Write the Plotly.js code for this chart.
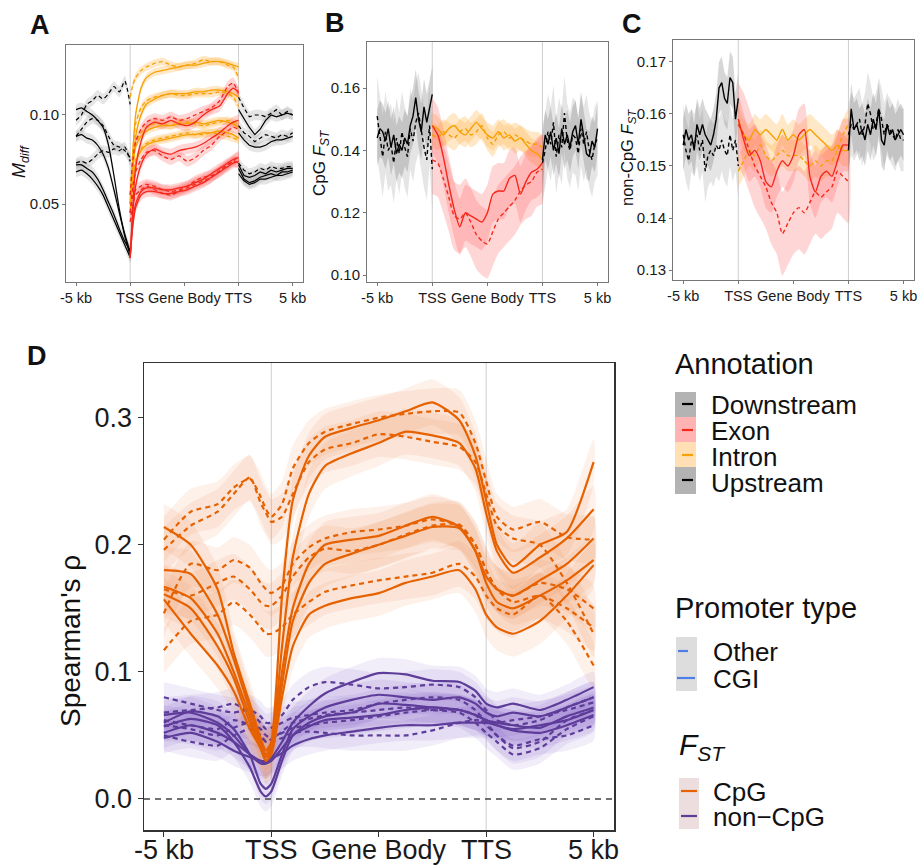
<!DOCTYPE html>
<html><head><meta charset="utf-8">
<script src="https://cdn.plot.ly/plotly-3.0.1.min.js"></script>
<style>body{margin:0;background:#fff}#plot{width:920px;height:866px}</style>
</head><body><div id="plot"></div>
<script>
// ---------- shared axis labels ----------
const tickPos = [0, 1, 2, 3, 4];
const tickLabels = ['-5 kb', 'TSS', 'Gene Body', 'TTS', '5 kb'];

// ---------- Panel A (M_diff) ----------
const A_up_x = [0, 0.1, 0.2, 0.3, 0.4, 0.5, 0.6, 0.7, 0.8, 0.9, 1.0];
const A_up_s1 = [0.103, 0.104, 0.102, 0.100, 0.097, 0.093, 0.083, 0.066, 0.047, 0.032, 0.021];
const A_up_s2 = [0.088, 0.089, 0.087, 0.086, 0.083, 0.078, 0.070, 0.058, 0.045, 0.033, 0.023];
const A_up_s3 = [0.072, 0.072, 0.070, 0.068, 0.064, 0.058, 0.051, 0.044, 0.036, 0.029, 0.024];
const A_up_s4 = [0.068, 0.069, 0.067, 0.064, 0.060, 0.055, 0.048, 0.041, 0.034, 0.027, 0.020];
const A_up_d1 = [0.097, 0.100, 0.106, 0.108, 0.111, 0.109, 0.112, 0.116, 0.113, 0.119, 0.106];
const A_up_d2 = [0.088, 0.092, 0.096, 0.098, 0.097, 0.094, 0.088, 0.083, 0.082, 0.080, 0.076];
const A_up_d3 = [0.073, 0.074, 0.073, 0.075, 0.078, 0.080, 0.079, 0.081, 0.080, 0.082, 0.074];

const A_gb_x = [1.0, 1.05, 1.1, 1.2, 1.3, 1.45, 1.6, 1.75, 1.9, 2.05, 2.2, 2.35, 2.5, 2.65, 2.8, 2.9, 3.0];
const A_in_s1 = [0.050, 0.080, 0.100, 0.115, 0.121, 0.124, 0.125, 0.126, 0.127, 0.128, 0.128, 0.129, 0.130, 0.130, 0.129, 0.128, 0.127];
const A_in_d1 = [0.110, 0.117, 0.121, 0.125, 0.127, 0.129, 0.130, 0.128, 0.127, 0.128, 0.129, 0.131, 0.130, 0.130, 0.128, 0.127, 0.121];
const A_in_s2 = [0.045, 0.070, 0.088, 0.100, 0.106, 0.109, 0.111, 0.112, 0.112, 0.112, 0.113, 0.113, 0.114, 0.114, 0.113, 0.112, 0.110];
const A_in_d2 = [0.055, 0.080, 0.095, 0.104, 0.108, 0.110, 0.111, 0.112, 0.111, 0.111, 0.112, 0.112, 0.112, 0.113, 0.112, 0.110, 0.105];
const A_in_s3 = [0.050, 0.070, 0.082, 0.088, 0.091, 0.093, 0.094, 0.094, 0.095, 0.095, 0.096, 0.095, 0.096, 0.097, 0.096, 0.095, 0.093];
const A_in_d3 = [0.055, 0.072, 0.084, 0.090, 0.093, 0.095, 0.095, 0.094, 0.096, 0.096, 0.095, 0.094, 0.095, 0.096, 0.097, 0.096, 0.095];
const A_in_s4 = [0.045, 0.062, 0.073, 0.080, 0.083, 0.085, 0.086, 0.087, 0.088, 0.089, 0.089, 0.090, 0.090, 0.091, 0.090, 0.089, 0.087];
const A_in_d4 = [0.050, 0.065, 0.075, 0.081, 0.084, 0.086, 0.087, 0.088, 0.089, 0.090, 0.089, 0.089, 0.090, 0.089, 0.088, 0.087, 0.086];
const A_ex_s1 = [0.020, 0.050, 0.070, 0.085, 0.093, 0.096, 0.095, 0.097, 0.095, 0.094, 0.096, 0.100, 0.103, 0.105, 0.112, 0.115, 0.113];
const A_ex_d1 = [0.055, 0.075, 0.085, 0.092, 0.096, 0.098, 0.097, 0.099, 0.097, 0.098, 0.100, 0.102, 0.104, 0.108, 0.116, 0.118, 0.112];
const A_ex_s2 = [0.020, 0.045, 0.060, 0.072, 0.078, 0.081, 0.079, 0.078, 0.080, 0.081, 0.082, 0.084, 0.087, 0.090, 0.094, 0.096, 0.097];
const A_ex_d2 = [0.045, 0.060, 0.068, 0.075, 0.079, 0.080, 0.077, 0.075, 0.077, 0.074, 0.076, 0.080, 0.083, 0.088, 0.091, 0.093, 0.092];
const A_ex_s3 = [0.020, 0.040, 0.050, 0.057, 0.059, 0.059, 0.058, 0.058, 0.059, 0.060, 0.062, 0.064, 0.067, 0.070, 0.073, 0.075, 0.076];
const A_ex_d3 = [0.045, 0.055, 0.058, 0.060, 0.061, 0.060, 0.058, 0.057, 0.058, 0.060, 0.063, 0.065, 0.066, 0.068, 0.072, 0.074, 0.073];
const A_ex_s4 = [0.020, 0.038, 0.048, 0.055, 0.057, 0.057, 0.056, 0.056, 0.057, 0.058, 0.060, 0.062, 0.065, 0.068, 0.071, 0.073, 0.074];
const A_ex_d4 = [0.040, 0.050, 0.055, 0.058, 0.060, 0.058, 0.056, 0.055, 0.057, 0.059, 0.061, 0.063, 0.065, 0.069, 0.072, 0.074, 0.077];

const A_dn_x = [3.0, 3.1, 3.2, 3.3, 3.4, 3.5, 3.6, 3.7, 3.8, 3.9, 4.0];
const A_dn_s1 = [0.103, 0.098, 0.093, 0.089, 0.092, 0.097, 0.100, 0.099, 0.100, 0.101, 0.100];
const A_dn_d1 = [0.110, 0.104, 0.099, 0.100, 0.100, 0.099, 0.101, 0.103, 0.100, 0.102, 0.100];
const A_dn_s2 = [0.090, 0.086, 0.083, 0.082, 0.082, 0.083, 0.085, 0.086, 0.086, 0.087, 0.088];
const A_dn_d2 = [0.094, 0.090, 0.088, 0.085, 0.087, 0.089, 0.088, 0.087, 0.089, 0.088, 0.090];
const A_dn_s3 = [0.072, 0.066, 0.065, 0.066, 0.068, 0.067, 0.069, 0.068, 0.069, 0.070, 0.070];
const A_dn_s4 = [0.070, 0.064, 0.062, 0.063, 0.065, 0.066, 0.067, 0.066, 0.068, 0.068, 0.069];
const A_dn_d3 = [0.073, 0.069, 0.067, 0.068, 0.070, 0.069, 0.071, 0.070, 0.070, 0.071, 0.071];
const A_dn_s5 = [0.067, 0.063, 0.061, 0.062, 0.064, 0.064, 0.065, 0.066, 0.066, 0.067, 0.068];

// ---------- Panels B and C grids ----------
const FL_UP_X = [0, 0.05, 0.1, 0.15, 0.2, 0.25, 0.3, 0.35, 0.4, 0.45, 0.5, 0.55, 0.6, 0.65, 0.7, 0.75, 0.8, 0.85, 0.9, 0.95, 1.0];
const GB_X = [1.0, 1.1, 1.2, 1.3, 1.4, 1.5, 1.6, 1.7, 1.8, 1.9, 2.0, 2.1, 2.2, 2.3, 2.4, 2.5, 2.6, 2.7, 2.8, 2.9, 3.0];
const FL_DN_X = [3.0, 3.05, 3.1, 3.15, 3.2, 3.25, 3.3, 3.35, 3.4, 3.45, 3.5, 3.55, 3.6, 3.65, 3.7, 3.75, 3.8, 3.85, 3.9, 3.95, 4.0];

// ---------- Panel B (CpG F_ST) ----------
const B_up_s = [0.144, 0.147, 0.146, 0.143, 0.147, 0.141, 0.145, 0.139, 0.142, 0.140, 0.144, 0.142, 0.148, 0.151, 0.157, 0.150, 0.146, 0.154, 0.149, 0.153, 0.158];
const B_up_d = [0.151, 0.145, 0.138, 0.146, 0.140, 0.142, 0.136, 0.144, 0.139, 0.146, 0.141, 0.138, 0.147, 0.143, 0.149, 0.152, 0.146, 0.141, 0.137, 0.148, 0.134];
const B_in_s = [0.148, 0.147, 0.145, 0.147, 0.148, 0.146, 0.145, 0.147, 0.149, 0.147, 0.145, 0.144, 0.146, 0.144, 0.145, 0.143, 0.144, 0.142, 0.140, 0.139, 0.137];
const B_in_d = [0.145, 0.144, 0.146, 0.145, 0.144, 0.146, 0.147, 0.145, 0.146, 0.148, 0.144, 0.142, 0.145, 0.146, 0.144, 0.145, 0.144, 0.143, 0.142, 0.142, 0.141];
const B_ex_s = [0.148, 0.145, 0.138, 0.129, 0.121, 0.1155, 0.120, 0.119, 0.118, 0.117, 0.120, 0.126, 0.127, 0.127, 0.131, 0.132, 0.126, 0.130, 0.133, 0.134, 0.136];
const B_ex_d = [0.137, 0.136, 0.131, 0.125, 0.119, 0.118, 0.120, 0.117, 0.113, 0.111, 0.110, 0.114, 0.118, 0.120, 0.122, 0.124, 0.127, 0.129, 0.130, 0.133, 0.134];
const B_dn_s = [0.137, 0.145, 0.142, 0.146, 0.140, 0.144, 0.139, 0.147, 0.142, 0.145, 0.141, 0.146, 0.148, 0.142, 0.150, 0.144, 0.139, 0.138, 0.143, 0.141, 0.147];
const B_dn_d = [0.136, 0.140, 0.146, 0.142, 0.149, 0.138, 0.145, 0.141, 0.152, 0.143, 0.140, 0.145, 0.144, 0.139, 0.147, 0.142, 0.146, 0.140, 0.137, 0.142, 0.144];

// ---------- Panel C (non-CpG F_ST) ----------
const C_up_s = [0.154, 0.157, 0.155, 0.156, 0.153, 0.158, 0.156, 0.158, 0.156, 0.155, 0.154, 0.156, 0.159, 0.165, 0.166, 0.163, 0.162, 0.167, 0.166, 0.159, 0.163];
const C_up_d = [0.156, 0.153, 0.151, 0.155, 0.154, 0.156, 0.153, 0.155, 0.149, 0.152, 0.153, 0.152, 0.154, 0.153, 0.155, 0.153, 0.152, 0.156, 0.153, 0.155, 0.150];
const C_in_s = [0.159, 0.156, 0.155, 0.157, 0.156, 0.157, 0.156, 0.155, 0.157, 0.155, 0.156, 0.155, 0.156, 0.157, 0.156, 0.155, 0.154, 0.153, 0.154, 0.153, 0.153];
const C_in_d = [0.149, 0.151, 0.153, 0.152, 0.154, 0.152, 0.151, 0.152, 0.153, 0.152, 0.152, 0.152, 0.151, 0.150, 0.151, 0.150, 0.151, 0.151, 0.153, 0.156, 0.158];
const C_ex_s = [0.159, 0.155, 0.152, 0.153, 0.151, 0.147, 0.146, 0.149, 0.151, 0.150, 0.152, 0.156, 0.157, 0.148, 0.145, 0.148, 0.149, 0.148, 0.151, 0.154, 0.154];
const C_ex_d = [0.158, 0.156, 0.153, 0.150, 0.148, 0.146, 0.143, 0.141, 0.137, 0.139, 0.141, 0.142, 0.141, 0.143, 0.145, 0.144, 0.145, 0.146, 0.149, 0.148, 0.147];
const C_dn_s = [0.153, 0.161, 0.157, 0.158, 0.156, 0.157, 0.155, 0.158, 0.156, 0.159, 0.157, 0.161, 0.155, 0.154, 0.158, 0.156, 0.157, 0.155, 0.156, 0.157, 0.156];
const C_dn_d = [0.156, 0.158, 0.157, 0.158, 0.159, 0.156, 0.158, 0.162, 0.160, 0.157, 0.158, 0.161, 0.159, 0.156, 0.158, 0.157, 0.156, 0.155, 0.157, 0.155, 0.155];

// ---------- Panel D (Spearman's rho) ----------
const D_x = [0, 0.25, 0.5, 0.65, 0.8, 0.9, 0.95, 1.0, 1.1, 1.2, 1.35, 1.5, 1.75, 2.0, 2.25, 2.5, 2.75, 2.9, 3.0, 3.1, 3.25, 3.5, 3.75, 4.0];
// CpG, CGI (solid)
const cpg_cgi_1 = [0.214, 0.200, 0.165, 0.115, 0.075, 0.048, 0.038, 0.045, 0.160, 0.235, 0.270, 0.285, 0.292, 0.298, 0.305, 0.312, 0.298, 0.270, 0.235, 0.200, 0.183, 0.200, 0.210, 0.265];
const cpg_cgi_2 = [0.180, 0.177, 0.145, 0.110, 0.070, 0.045, 0.035, 0.042, 0.120, 0.190, 0.240, 0.262, 0.272, 0.280, 0.289, 0.286, 0.280, 0.260, 0.225, 0.195, 0.178, 0.190, 0.205, 0.228];
const cpg_cgi_3 = [0.167, 0.158, 0.130, 0.100, 0.065, 0.042, 0.033, 0.040, 0.100, 0.150, 0.185, 0.200, 0.204, 0.207, 0.215, 0.222, 0.214, 0.195, 0.175, 0.165, 0.160, 0.172, 0.185, 0.205];
const cpg_cgi_4 = [0.161, 0.150, 0.120, 0.095, 0.060, 0.040, 0.030, 0.037, 0.090, 0.140, 0.170, 0.185, 0.193, 0.200, 0.207, 0.214, 0.213, 0.195, 0.170, 0.155, 0.150, 0.160, 0.172, 0.188];
const cpg_cgi_5 = [0.157, 0.130, 0.105, 0.085, 0.055, 0.040, 0.030, 0.035, 0.080, 0.120, 0.145, 0.152, 0.158, 0.162, 0.170, 0.175, 0.180, 0.165, 0.145, 0.135, 0.130, 0.140, 0.160, 0.184];
// CpG, Other (dashed)
const cpg_oth_1 = [0.204, 0.226, 0.232, 0.245, 0.252, 0.238, 0.228, 0.222, 0.232, 0.260, 0.280, 0.289, 0.295, 0.300, 0.303, 0.305, 0.304, 0.280, 0.250, 0.222, 0.212, 0.218, 0.206, 0.204];
const cpg_oth_2 = [0.196, 0.215, 0.226, 0.240, 0.253, 0.233, 0.225, 0.218, 0.222, 0.240, 0.265, 0.275, 0.280, 0.287, 0.285, 0.281, 0.277, 0.265, 0.240, 0.215, 0.205, 0.200, 0.170, 0.130];
const cpg_oth_3 = [0.146, 0.185, 0.180, 0.188, 0.182, 0.170, 0.165, 0.162, 0.168, 0.185, 0.198, 0.205, 0.210, 0.212, 0.215, 0.220, 0.215, 0.200, 0.180, 0.165, 0.160, 0.170, 0.165, 0.150];
const cpg_oth_4 = [0.165, 0.160, 0.170, 0.175, 0.165, 0.155, 0.152, 0.152, 0.160, 0.175, 0.190, 0.197, 0.195, 0.200, 0.208, 0.215, 0.216, 0.200, 0.180, 0.165, 0.155, 0.160, 0.150, 0.135];
const cpg_oth_5 = [0.117, 0.140, 0.145, 0.155, 0.145, 0.135, 0.130, 0.130, 0.135, 0.145, 0.155, 0.163, 0.168, 0.172, 0.175, 0.178, 0.185, 0.175, 0.160, 0.150, 0.145, 0.160, 0.140, 0.105];
// non-CpG, CGI (solid)
const non_cgi_1 = [0.066, 0.068, 0.060, 0.050, 0.035, 0.028, 0.028, 0.032, 0.045, 0.060, 0.073, 0.083, 0.092, 0.099, 0.098, 0.093, 0.092, 0.085, 0.075, 0.072, 0.075, 0.070, 0.078, 0.088];
const non_cgi_2 = [0.060, 0.069, 0.065, 0.055, 0.035, 0.012, 0.008, 0.012, 0.035, 0.055, 0.065, 0.072, 0.078, 0.082, 0.080, 0.078, 0.080, 0.075, 0.068, 0.065, 0.068, 0.065, 0.072, 0.080];
const non_cgi_3 = [0.057, 0.063, 0.058, 0.045, 0.025, 0.006, 0.002, 0.006, 0.030, 0.050, 0.060, 0.065, 0.068, 0.075, 0.074, 0.072, 0.070, 0.066, 0.062, 0.060, 0.058, 0.056, 0.065, 0.072];
const non_cgi_4 = [0.052, 0.058, 0.052, 0.045, 0.035, 0.030, 0.028, 0.030, 0.040, 0.050, 0.057, 0.062, 0.064, 0.066, 0.070, 0.072, 0.070, 0.066, 0.062, 0.058, 0.054, 0.052, 0.058, 0.066];
const non_cgi_5 = [0.048, 0.052, 0.045, 0.038, 0.033, 0.030, 0.030, 0.032, 0.036, 0.042, 0.047, 0.050, 0.053, 0.056, 0.058, 0.058, 0.060, 0.060, 0.060, 0.058, 0.055, 0.058, 0.062, 0.070];
// non-CpG, Other (dashed)
const non_oth_1 = [0.080, 0.075, 0.070, 0.068, 0.070, 0.065, 0.060, 0.060, 0.066, 0.078, 0.088, 0.092, 0.090, 0.087, 0.088, 0.090, 0.088, 0.080, 0.070, 0.062, 0.058, 0.062, 0.072, 0.080];
const non_oth_2 = [0.068, 0.070, 0.072, 0.075, 0.068, 0.060, 0.055, 0.056, 0.060, 0.064, 0.066, 0.068, 0.070, 0.075, 0.078, 0.080, 0.078, 0.070, 0.060, 0.050, 0.040, 0.045, 0.062, 0.070];
const non_oth_3 = [0.062, 0.058, 0.055, 0.062, 0.058, 0.050, 0.045, 0.047, 0.053, 0.060, 0.063, 0.066, 0.068, 0.070, 0.072, 0.070, 0.068, 0.060, 0.052, 0.045, 0.035, 0.040, 0.055, 0.065];
const non_oth_4 = [0.058, 0.055, 0.050, 0.056, 0.060, 0.055, 0.050, 0.048, 0.052, 0.056, 0.058, 0.060, 0.062, 0.065, 0.068, 0.070, 0.070, 0.066, 0.058, 0.050, 0.042, 0.047, 0.050, 0.058];
const non_oth_5 = [0.050, 0.045, 0.042, 0.050, 0.055, 0.050, 0.045, 0.045, 0.048, 0.052, 0.053, 0.052, 0.050, 0.050, 0.050, 0.054, 0.060, 0.062, 0.062, 0.060, 0.062, 0.065, 0.070, 0.076];

// ---------- styling ----------
const FONT = 'Liberation Sans, Arial, sans-serif';
const BLACK = '#000000', EXON = '#f5281c', INTRON = '#f7a000';
const CPG = '#e66100', NONCPG = '#5e3c99';
const GRAY_RIB = 'rgba(120,120,120,0.30)', GRAY_RIB2 = 'rgba(150,150,150,0.25)';
const EXON_RIB = 'rgba(255,90,90,0.25)', INTRON_RIB = 'rgba(255,185,80,0.32)';
const CPG_RIB = 'rgba(238,125,60,0.11)', NON_RIB = 'rgba(125,95,200,0.11)';

const ribbons = [], lines = [];
function addSeries(xa, ya, xs, ys, color, dashed, width, hw, ribColor, shape) {
  const up = ys.map(v => v + hw), lo = ys.map(v => v - hw);
  ribbons.push({x: xs.concat(xs.slice().reverse()), y: up.concat(lo.reverse()), xaxis: xa, yaxis: ya,
    mode: 'lines', fill: 'toself', fillcolor: ribColor, line: {width: 0, shape: shape, smoothing: 0.6},
    hoverinfo: 'skip', showlegend: false});
  lines.push({x: xs, y: ys, xaxis: xa, yaxis: ya, mode: 'lines',
    line: {color: color, width: width, dash: dashed ? (width > 2 ? '5px,4px' : '4px,3px') : 'solid', shape: shape, smoothing: 0.6},
    hoverinfo: 'skip', showlegend: false});
}

// Panel A
[[A_up_s1,0],[A_up_s2,0],[A_up_s3,0],[A_up_s4,0],[A_up_d1,1],[A_up_d2,1],[A_up_d3,1]].forEach(([s,d]) =>
  addSeries('x', 'y', A_up_x, s, BLACK, d, 1.2, 0.003, GRAY_RIB2, 'spline'));
[[A_in_s1,0],[A_in_d1,1],[A_in_s2,0],[A_in_d2,1],[A_in_s3,0],[A_in_d3,1],[A_in_s4,0],[A_in_d4,1]].forEach(([s,d]) =>
  addSeries('x', 'y', A_gb_x, s, INTRON, d, 1.3, 0.0022, INTRON_RIB, 'spline'));
[[A_ex_s1,0],[A_ex_d1,1],[A_ex_s2,0],[A_ex_d2,1],[A_ex_s3,0],[A_ex_d3,1],[A_ex_s4,0],[A_ex_d4,1]].forEach(([s,d]) =>
  addSeries('x', 'y', A_gb_x, s, EXON, d, 1.3, 0.003, EXON_RIB, 'spline'));
[[A_dn_s1,0],[A_dn_d1,1],[A_dn_s2,0],[A_dn_d2,1],[A_dn_s3,0],[A_dn_s4,0],[A_dn_d3,1],[A_dn_s5,0]].forEach(([s,d]) =>
  addSeries('x', 'y', A_dn_x, s, BLACK, d, 1.2, 0.003, GRAY_RIB2, 'linear'));

// Panel B
addSeries('x2','y2', FL_UP_X, B_up_d, BLACK, 1, 1.4, 0.013, GRAY_RIB2, 'linear');
addSeries('x2','y2', FL_UP_X, B_up_s, BLACK, 0, 1.4, 0.009, GRAY_RIB, 'linear');
addSeries('x2','y2', GB_X, B_in_d, INTRON, 1, 1.4, 0.004, INTRON_RIB, 'spline');
addSeries('x2','y2', GB_X, B_in_s, INTRON, 0, 1.4, 0.004, INTRON_RIB, 'spline');
addSeries('x2','y2', GB_X, B_ex_d, EXON, 1, 1.4, 0.011, EXON_RIB, 'spline');
addSeries('x2','y2', GB_X, B_ex_s, EXON, 0, 1.4, 0.009, EXON_RIB, 'spline');
addSeries('x2','y2', FL_DN_X, B_dn_d, BLACK, 1, 1.4, 0.012, GRAY_RIB2, 'linear');
addSeries('x2','y2', FL_DN_X, B_dn_s, BLACK, 0, 1.4, 0.008, GRAY_RIB, 'linear');

// Panel C
addSeries('x3','y3', FL_UP_X, C_up_d, BLACK, 1, 1.4, 0.006, GRAY_RIB2, 'linear');
addSeries('x3','y3', FL_UP_X, C_up_s, BLACK, 0, 1.4, 0.005, GRAY_RIB, 'linear');
addSeries('x3','y3', GB_X, C_in_d, INTRON, 1, 1.4, 0.003, INTRON_RIB, 'spline');
addSeries('x3','y3', GB_X, C_in_s, INTRON, 0, 1.4, 0.003, INTRON_RIB, 'spline');
addSeries('x3','y3', GB_X, C_ex_d, EXON, 1, 1.4, 0.008, EXON_RIB, 'spline');
addSeries('x3','y3', GB_X, C_ex_s, EXON, 0, 1.4, 0.005, EXON_RIB, 'spline');
addSeries('x3','y3', FL_DN_X, C_dn_d, BLACK, 1, 1.4, 0.006, GRAY_RIB2, 'linear');
addSeries('x3','y3', FL_DN_X, C_dn_s, BLACK, 0, 1.4, 0.005, GRAY_RIB, 'linear');

// Panel D
[non_cgi_1, non_cgi_2, non_cgi_3, non_cgi_4, non_cgi_5].forEach(s => addSeries('x4','y4', D_x, s, NONCPG, 0, 2.2, 0.012, NON_RIB, 'spline'));
[non_oth_1, non_oth_2, non_oth_3, non_oth_4, non_oth_5].forEach(s => addSeries('x4','y4', D_x, s, NONCPG, 1, 2.2, 0.012, NON_RIB, 'spline'));
[cpg_cgi_1, cpg_cgi_2, cpg_cgi_3, cpg_cgi_4, cpg_cgi_5].forEach(s => addSeries('x4','y4', D_x, s, CPG, 0, 2.2, 0.018, CPG_RIB, 'spline'));
[cpg_oth_1, cpg_oth_2, cpg_oth_3, cpg_oth_4, cpg_oth_5].forEach(s => addSeries('x4','y4', D_x, s, CPG, 1, 2.2, 0.018, CPG_RIB, 'spline'));

// ---------- layout helpers ----------
const W = 920, H = 866;
const px = v => v / W, py = v => 1 - v / H;
function xAxis(x0, x1, anchor, fs, big) {
  return {domain: [px(x0), px(x1)], anchor: anchor, range: [-0.185, 4.19],
    tickmode: 'array', tickvals: tickPos, ticktext: tickLabels, tickangle: 0,
    showticklabels: !big,
    showgrid: false, zeroline: false, showline: true, mirror: true,
    linecolor: big ? '#333' : '#777', linewidth: big ? 1.5 : 1,
    ticks: 'outside', ticklen: big ? 5 : 3, tickcolor: big ? '#333' : '#777',
    tickfont: {family: FONT, size: fs, color: '#1a1a1a'}, fixedrange: true};
}
function yAxis(y0, y1, anchor, range, vals, fmt, fs, big) {
  return {domain: [py(y1), py(y0)], anchor: anchor, range: range,
    tickmode: 'array', tickvals: vals, tickformat: fmt,
    showgrid: false, zeroline: false, showline: true, mirror: true,
    linecolor: big ? '#333' : '#777', linewidth: big ? 1.5 : 1,
    ticks: 'outside', ticklen: big ? 5 : 3, tickcolor: big ? '#333' : '#777',
    tickfont: {family: FONT, size: fs, color: '#1a1a1a'}, fixedrange: true};
}

const shapes = [];
[['x','y'],['x2','y2'],['x3','y3'],['x4','y4']].forEach(([xa, ya]) => {
  [1, 3].forEach(xv => shapes.push({type: 'line', xref: xa, yref: ya + ' domain', x0: xv, x1: xv, y0: 0, y1: 1,
    line: {color: '#cfcfcf', width: 1}, layer: 'below'}));
});
shapes.push({type: 'line', xref: 'x4 domain', yref: 'y4', x0: 0, x1: 1, y0: 0, y1: 0,
  line: {color: '#444', width: 1.3, dash: '6px,5px'}});

// legend boxes (paper coordinates from pixels)
function rect(x0, y0, x1, y1, c) { shapes.push({type: 'rect', xref: 'paper', yref: 'paper', x0: px(x0), x1: px(x1), y0: py(y1), y1: py(y0), fillcolor: c, line: {width: 0}}); }
function seg(x0, x1, y, c) { shapes.push({type: 'line', xref: 'paper', yref: 'paper', x0: px(x0), x1: px(x1), y0: py(y), y1: py(y), line: {color: c, width: 2.2}}); }
rect(675, 392, 696, 417, '#b3b3b3'); rect(675, 417, 696, 442, '#ffb3b3');
rect(675, 442, 696, 467, '#ffdfb3'); rect(675, 467, 696, 494, '#b3b3b3');
seg(682, 693, 404, BLACK); seg(682, 693, 430, EXON); seg(682, 693, 455, INTRON); seg(682, 693, 480, BLACK);
rect(676, 637, 697, 691, '#dddddd');
seg(678, 688, 651, '#4f7fe6'); seg(677, 695, 678, '#4f7fe6');
rect(679, 778, 699, 829, '#ecdede');
seg(681, 697, 791, CPG); seg(681, 697, 816, NONCPG);

const annotations = [];
function txt(x, y, t, size, opts) {
  annotations.push(Object.assign({xref: 'paper', yref: 'paper', x: px(x), y: py(y), text: t, showarrow: false,
    xanchor: 'left', yanchor: 'middle', borderpad: 0, font: {family: FONT, size: size, color: '#111'}}, opts || {}));
}
// panel D x tick labels, positioned on the D x axis
tickPos.forEach((v, i) => annotations.push({xref: 'x4', yref: 'paper', x: v, y: py(850), text: tickLabels[i],
  showarrow: false, xanchor: 'center', yanchor: 'middle', borderpad: 0, font: {family: FONT, size: 27, color: '#1a1a1a'}}));
// panel letters
txt(40, 25, '<b>A</b>', 27, {xanchor: 'center'});
txt(335, 23, '<b>B</b>', 27, {xanchor: 'center'});
txt(632, 24, '<b>C</b>', 27, {xanchor: 'center'});
txt(37, 356, '<b>D</b>', 27, {xanchor: 'center'});
// y titles
txt(20, 162, '<i>M</i><sub><i>diff</i></sub>', 18, {xanchor: 'center', textangle: -90});
txt(321, 163, 'CpG <i>F</i><sub><i>ST</i></sub>', 17, {xanchor: 'center', textangle: -90});
txt(628, 158, 'non-CpG <i>F</i><sub><i>ST</i></sub>', 16.5, {xanchor: 'center', textangle: -90});
txt(70, 641, 'Spearman\'s ρ', 28, {xanchor: 'center', textangle: -90});
// legends
txt(674, 364, 'Annotation', 29);
txt(710, 405, 'Downstream', 26); txt(710, 431, 'Exon', 26); txt(710, 457, 'Intron', 26); txt(710, 483, 'Upstream', 26);
txt(674, 608, 'Promoter type', 29);
txt(712, 652, 'Other', 26); txt(712, 679, 'CGI', 26);
txt(678, 746, '<i>F</i><sub><i>ST</i></sub>', 30);
txt(712, 792, 'CpG', 26); txt(712, 817, 'non−CpG', 26);

const layout = {
  width: W, height: H, margin: {l: 0, r: 0, t: 0, b: 0},
  paper_bgcolor: '#fff', plot_bgcolor: '#fff', showlegend: false,
  xaxis: xAxis(66, 303, 'y', 14.5, false),
  yaxis: yAxis(45, 282, 'x', [0.0062, 0.1393], [0.05, 0.10], '.2f', 15, false),
  xaxis2: xAxis(367, 608, 'y2', 14.5, false),
  yaxis2: yAxis(42, 282, 'x2', [0.0978, 0.1748], [0.10, 0.12, 0.14, 0.16], '.2f', 15, false),
  xaxis3: xAxis(673, 914, 'y3', 14.5, false),
  yaxis3: yAxis(40, 280, 'x3', [0.1281, 0.1742], [0.13, 0.14, 0.15, 0.16, 0.17], '.2f', 15, false),
  xaxis4: xAxis(144, 614, 'y4', 27, true),
  yaxis4: yAxis(363, 830, 'x4', [-0.0244, 0.343], [0, 0.1, 0.2, 0.3], '.1f', 27, true),
  shapes: shapes, annotations: annotations
};
Plotly.newPlot('plot', ribbons.concat(lines), layout, {displayModeBar: false, staticPlot: true});
</script></body></html>
